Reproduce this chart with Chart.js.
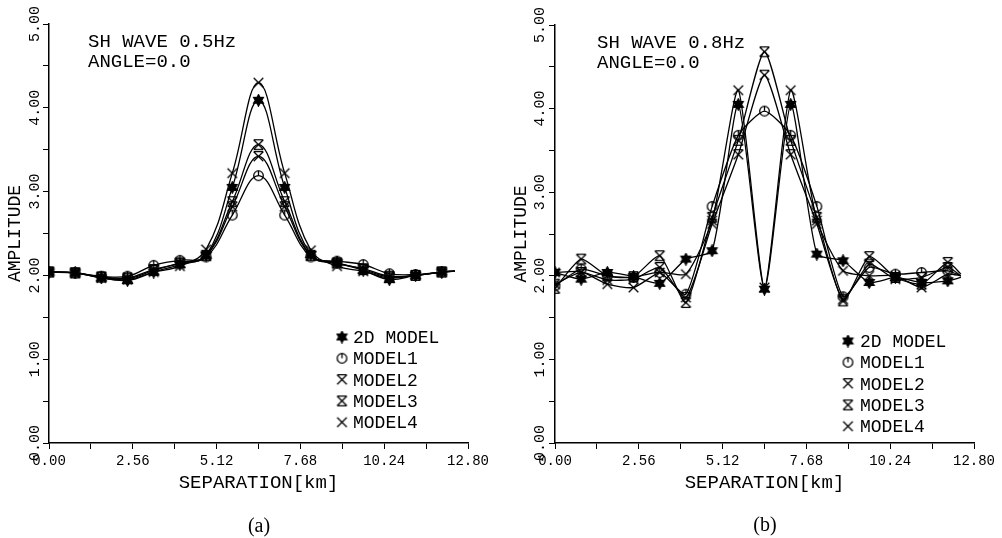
<!DOCTYPE html>
<html>
<head>
<meta charset="utf-8">
<script src="https://cdn.jsdelivr.net/npm/chart.js@4/dist/chart.umd.min.js"></script>
<style>
  body { margin: 0; background: #fff; width: 1002px; height: 538px; overflow: hidden; position: relative; }
  canvas { position: absolute; }
  #c1 { left: 0; top: 0; }
  #c2 { left: 506px; top: 1px; }
</style>
</head>
<body>
<canvas id="c1" width="500" height="538"></canvas>
<canvas id="c2" width="496" height="537"></canvas>
<script>
const seriesNames = ['2D MODEL', 'MODEL1', 'MODEL2', 'MODEL3', 'MODEL4'];
const separation = [0, 0.8, 1.6, 2.4, 3.2, 4.0, 4.8, 5.6, 6.4, 7.2, 8.0, 8.8, 9.6, 10.4, 11.2, 12.0, 12.4];

// (a) SH wave 0.5 Hz
const a2d    = [2.04, 2.03, 1.97, 1.94, 2.04, 2.13, 2.24, 3.05, 4.09, 3.05, 2.25, 2.15, 2.06, 1.95, 2.00, 2.04, 2.05];
const aModel1 = [2.04, 2.03, 1.99, 1.99, 2.12, 2.18, 2.22, 2.72, 3.19, 2.72, 2.22, 2.17, 2.13, 2.02, 2.01, 2.04, 2.05];
const aModel2 = [2.04, 2.03, 1.98, 1.97, 2.07, 2.14, 2.23, 2.82, 3.42, 2.82, 2.23, 2.14, 2.08, 1.99, 2.00, 2.04, 2.05];
const aModel3 = [2.04, 2.03, 1.98, 1.96, 2.06, 2.15, 2.24, 2.88, 3.56, 2.88, 2.24, 2.15, 2.07, 1.98, 2.00, 2.04, 2.05];
const aModel4 = [2.04, 2.03, 1.97, 1.95, 2.04, 2.11, 2.31, 3.22, 4.30, 3.22, 2.30, 2.11, 2.05, 1.97, 2.00, 2.04, 2.05];

// (b) SH wave 0.8 Hz
const b2d    = [2.04, 1.96, 2.04, 1.99, 1.91, 2.20, 2.30, 4.05, 1.84, 4.05, 2.26, 2.18, 1.92, 1.98, 1.92, 1.94, 1.98];
const bModel1 = [1.88, 2.08, 2.00, 1.98, 2.04, 1.78, 2.83, 3.68, 3.97, 3.68, 2.83, 1.75, 2.10, 2.02, 2.04, 2.06, 2.00];
const bModel2 = [1.90, 2.04, 1.95, 1.96, 2.10, 1.74, 2.62, 3.45, 4.40, 3.45, 2.62, 1.72, 2.14, 1.96, 1.98, 2.10, 2.00];
const bModel3 = [1.85, 2.20, 2.00, 1.99, 2.24, 1.68, 2.70, 3.62, 4.68, 3.62, 2.70, 1.70, 2.23, 1.98, 1.90, 2.16, 2.02];
const bModel4 = [2.04, 2.05, 1.90, 1.86, 2.04, 2.02, 2.66, 4.22, 1.86, 4.22, 2.66, 2.06, 2.00, 2.00, 1.86, 2.02, 2.00];

const xTicks = [0, 1.28, 2.56, 3.84, 5.12, 6.40, 7.68, 8.96, 10.24, 11.52, 12.80];
const yTicks = [0, 0.5, 1, 1.5, 2, 2.5, 3, 3.5, 4, 4.5, 5];
const yLabels = [0, 1, 2, 3, 4, 5];

const MONO = '"Liberation Mono", "DejaVu Sans Mono", monospace';

// plotter-style symbols
function makeMarker(kind) {
  const c = document.createElement('canvas');
  c.width = 13; c.height = 13;
  const g = c.getContext('2d');
  const m = 6.5, r = 4.8;
  g.strokeStyle = '#000'; g.fillStyle = '#000'; g.lineWidth = 1.3;
  g.beginPath();
  if (kind === 'star') {
    for (const off of [-90, 90]) {
      for (let k = 0; k < 3; k++) {
        const a = (off + k * 120) * Math.PI / 180;
        const px = m + 5.6 * Math.cos(a), py = m + 5.6 * Math.sin(a);
        if (k === 0) g.moveTo(px, py); else g.lineTo(px, py);
      }
      g.closePath();
    }
    g.fill();
    g.stroke();
    return c;
  }
  if (kind === 'circle') {
    g.arc(m, m, r, 0, Math.PI * 2);
    g.moveTo(m, m - r); g.lineTo(m, m);
  } else {
    g.moveTo(m - r, m - r); g.lineTo(m + r, m + r);
    g.moveTo(m + r, m - r); g.lineTo(m - r, m + r);
    if (kind === 'xbar' || kind === 'hourglass') { g.moveTo(m - r, m - r); g.lineTo(m + r, m - r); }
    if (kind === 'hourglass') { g.moveTo(m - r, m + r); g.lineTo(m + r, m + r); }
  }
  g.stroke();
  return c;
}
const markers = ['star', 'circle', 'xbar', 'hourglass', 'x'].map(makeMarker);

const decor = {
  id: 'decor',
  afterDraw(chart, args, o) {
    const g = chart.ctx, ys = chart.scales.y;
    g.save();
    g.fillStyle = '#000';
    g.font = '15px ' + MONO;
    g.textAlign = 'center'; g.textBaseline = 'middle';
    yLabels.forEach(v => {
      g.save();
      g.translate(o.yLabelX, ys.getPixelForValue(v));
      g.rotate(-Math.PI / 2);
      g.fillText(v.toFixed(2), 0, 0);
      g.restore();
    });
    g.textAlign = 'left'; g.textBaseline = 'alphabetic';
    g.font = '19px ' + MONO;
    o.note.forEach((t, i) => g.fillText(t, o.noteX, o.noteY + i * 20));
    g.font = '18px ' + MONO;
    seriesNames.forEach((n, i) => {
      const by = o.legY + i * o.legStep;
      g.drawImage(markers[i], o.symX - 6.5, by - 6 - 6.5);
      g.fillText(n, o.textX, by);
    });
    g.font = '20px "Liberation Serif", serif';
    g.textAlign = 'center'; g.textBaseline = 'middle';
    g.fillText(o.caption, o.capX, o.capY);
    g.restore();
  }
};

function buildPanel(canvasId, series, tension, padRight, deco) {
  const datasets = series.map((vals, k) => ({
    label: seriesNames[k],
    data: separation.map((x, i) => ({ x: x, y: vals[i] })),
    borderColor: '#000',
    borderWidth: 1.3,
    tension: tension,
    fill: false,
    pointStyle: markers[k],
    pointRadius: ctx => ctx.dataIndex === separation.length - 1 ? 0 : 6
  }));
  return new Chart(document.getElementById(canvasId), {
    type: 'line',
    data: { datasets },
    plugins: [decor],
    options: {
      responsive: false,
      animation: false,
      devicePixelRatio: 1,
      events: [],
      layout: { padding: { left: 0, top: 24, right: padRight, bottom: 41 } },
      plugins: { legend: { display: false }, tooltip: { enabled: false }, decor: deco },
      scales: {
        x: {
          type: 'linear', min: 0, max: 12.8,
          afterBuildTicks: s => { s.ticks = xTicks.map(v => ({ value: v })); },
          afterFit: s => { s.height = 54; },
          ticks: {
            autoSkip: false, maxRotation: 0, color: '#000', padding: 4,
            font: { family: MONO, size: 14 },
            callback: (v, i) => i % 2 === 0 ? Number(v).toFixed(2) : ''
          },
          grid: { drawOnChartArea: false, color: '#000', tickLength: 6 },
          border: { color: '#000', width: 1.5 },
          title: { display: true, text: 'SEPARATION[km]', color: '#000', font: { family: MONO, size: 19 }, padding: { top: 0, bottom: 3 } }
        },
        y: {
          min: 0, max: 5,
          afterBuildTicks: s => { s.ticks = yTicks.map(v => ({ value: v })); },
          afterFit: s => { s.width = 49; },
          ticks: { display: false },
          grid: { drawOnChartArea: false, color: '#000', tickLength: 6 },
          border: { color: '#000', width: 1.5 },
          title: { display: true, text: 'AMPLITUDE', color: '#000', font: { family: MONO, size: 18 }, padding: { top: 4, bottom: 0 } }
        }
      }
    }
  });
}

buildPanel('c1', [a2d, aModel1, aModel2, aModel3, aModel4], 0.4, 32, {
  yLabelX: 35, note: ['SH WAVE 0.5Hz', 'ANGLE=0.0'], noteX: 88, noteY: 47,
  symX: 342, textX: 353, legY: 343, legStep: 21.3, caption: '(a)', capX: 259, capY: 527
});
buildPanel('c2', [b2d, bModel1, bModel2, bModel3, bModel4], 0.2, 28, {
  yLabelX: 34, note: ['SH WAVE 0.8Hz', 'ANGLE=0.0'], noteX: 91, noteY: 47,
  symX: 342, textX: 354, legY: 346, legStep: 21.3, caption: '(b)', capX: 259, capY: 525
});
</script>
</body>
</html>
